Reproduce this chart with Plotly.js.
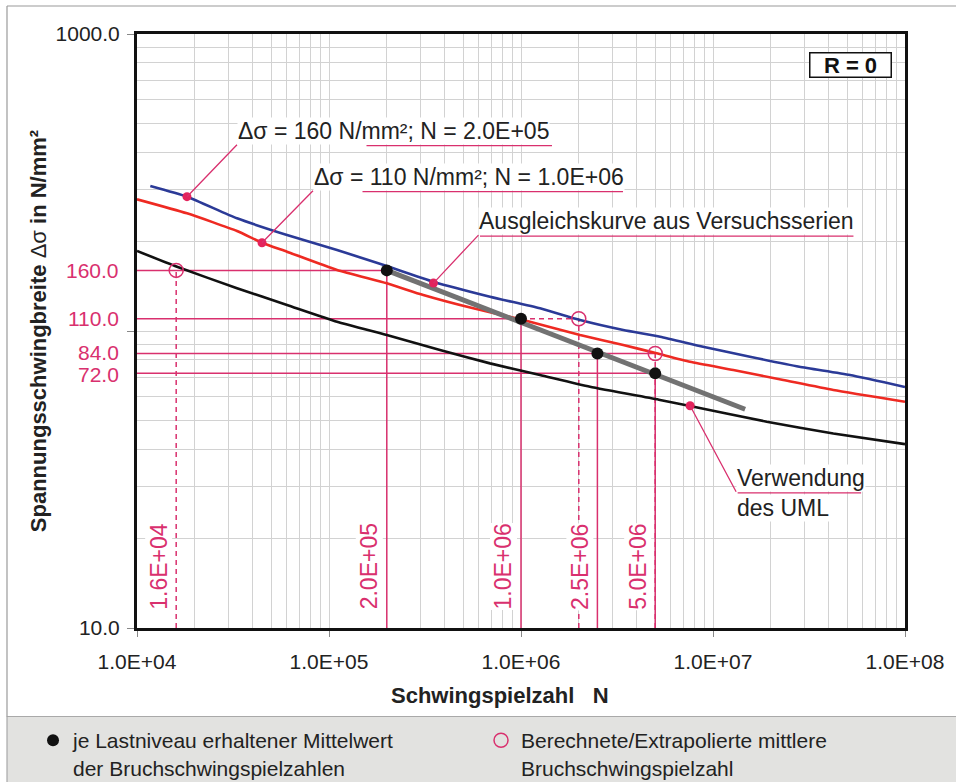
<!DOCTYPE html>
<html>
<head>
<meta charset="utf-8">
<script src="https://cdn.plot.ly/plotly-3.0.1.min.js"></script>
<style>html,body{margin:0;padding:0;background:#fff;}</style>
</head>
<body>
<div id="chart" style="width:956px;height:782px;"></div>
<script>
const FONT = 'Liberation Sans, Arial, Helvetica, sans-serif';
const PINK = '#d9306e';
const DOT = '#e3245c';

// ---- axis ticks ----
const xTickVals = [1e4, 1e5, 1e6, 1e7, 1e8];
const xTickText = ['1.0E+04', '1.0E+05', '1.0E+06', '1.0E+07', '1.0E+08'];
const yTickVals = [10, 100, 1000];
const yTickText = ['10.0', '', '1000.0'];

// ---- S-N curves ----
const blueN = [11730, 18210, 33180, 60430, 110100, 192700, 349300, 689500, 1256000, 2030000, 3410000, 5310000, 8870000, 15570000, 28150000, 51700000, 100000000];
const blueS = [307.7, 283.3, 239.6, 210.5, 187.4, 166.8, 146.6, 130.5, 119.2, 108.9, 100.8, 95.7, 88.5, 81.9, 75.8, 71.1, 64.8];

const redN = [10000, 18210, 33180, 44770, 60430, 110100, 200000, 309800, 564400, 1028000, 2030000, 3410000, 5090000, 7590000, 12760000, 23230000, 42320000, 100000000];
const redS = [277.6, 249.0, 217.0, 198.3, 184.9, 160.5, 144.7, 132.2, 119.2, 108.9, 96.9, 89.7, 84.1, 78.8, 73.9, 68.4, 63.3, 57.8];

const blackN = [10000, 16160, 33180, 60430, 110100, 200000, 378500, 689500, 1256000, 2288000, 5300000, 7590000, 19050000, 42320000, 100000000];
const blackS = [186.0, 164.6, 139.3, 122.4, 107.5, 96.9, 86.3, 77.8, 71.1, 64.9, 58.6, 55.9, 49.5, 45.2, 41.6];

// fitted line from the test series
const fitN = [200000, 14700000];
const fitS = [160, 54.5];

// ---- test levels ----
const meanN = [200000, 1000000, 2500000, 5000000];
const meanS = [160, 110, 84, 72];
const calcN = [16000, 2000000, 5000000];
const calcS = [160, 110, 84];

// horizontal guide lines (solid part ends at guideEndN)
const guideS = [160, 110, 84, 72];
const guideEndN = [200000, 1000000, 5000000, 5000000];
const dashFromN = [1000000];
const dashToN = [2000000];
const dashS = [110];

// labels
const sLabels = ['160.0', '110.0', '84.0', '72.0'];
const nLabels = ['1.6E+04', '2.0E+05', '1.0E+06', '2.5E+06', '5.0E+06'];
const nLabelN = [16000, 200000, 1000000, 2500000, 5000000];

// callouts
const callN = [18210, 44770, 350000, 7600000];
const callS = [283.3, 198.3, 145, 56];
const callText = ['Δσ = 160 N/mm²; N = 2.0E+05', 'Δσ = 110 N/mm²; N = 1.0E+06', 'Ausgleichskurve aus Versuchsserien', 'Verwendung'];
const callSub = ['', '', '', 'des UML'];

const xTitle = '<b>Schwingspielzahl\u00a0\u00a0\u00a0N</b>';
const yTitle = '<b>Spannungsschwingbreite</b> Δσ <b>in N/mm²</b>';
const legendMean = 'je Lastniveau erhaltener Mittelwert<br>der Bruchschwingspielzahlen';
const legendCalc = 'Berechnete/Extrapolierte mittlere<br>Bruchschwingspielzahl';

// ---- layout helpers (positions only) ----
const callAx = [50, 51, 45, 46];
const callAy = [-52, -52, -48, 86];
const callLen = [315, 310, 375, 125];
const sLabelShift = [0, 0, 1, -1];

const xMin = xTickVals[0];
const yMin = yTickVals[0];
const lg = Math.log10;

function minorVals(decades) {
  const out = [];
  for (let i = 0; i < decades.length - 1; i++) for (let k = 2; k <= 9; k++) out.push(k * decades[i]);
  return out;
}
function segs(xs0, xs1, ys0, ys1) {
  const x = [], y = [];
  for (let i = 0; i < xs0.length; i++) { x.push(xs0[i], xs1[i], null); y.push(ys0[i], ys1[i], null); }
  return {x, y};
}
const F = (size, color) => ({family: FONT, size: size, color: color});

const vSolid = segs(meanN, meanN, meanN.map(() => yMin), meanS);
const hSolid = segs(guideEndN.map(() => xMin), guideEndN, guideS, guideS);
const vDash = segs(calcN, calcN, calcN.map(() => yMin), calcS);
const hDash = segs(dashFromN, dashToN, dashS, dashS);

const curveLine = (c) => ({color: c, width: 2.6, shape: 'spline', smoothing: 0.5});

const traces = [
  {x: vSolid.x, y: vSolid.y, mode: 'lines', line: {color: PINK, width: 1.5}, showlegend: false, hoverinfo: 'skip'},
  {x: hSolid.x, y: hSolid.y, mode: 'lines', line: {color: PINK, width: 1.5}, showlegend: false, hoverinfo: 'skip'},
  {x: vDash.x, y: vDash.y, mode: 'lines', line: {color: PINK, width: 1.5, dash: '5px,4px'}, showlegend: false, hoverinfo: 'skip'},
  {x: hDash.x, y: hDash.y, mode: 'lines', line: {color: PINK, width: 1.5, dash: '5px,4px'}, showlegend: false, hoverinfo: 'skip'},
  {x: blackN, y: blackS, mode: 'lines', line: curveLine('#111111'), showlegend: false},
  {x: redN, y: redS, mode: 'lines', line: curveLine('#ee2a22'), showlegend: false},
  {x: blueN, y: blueS, mode: 'lines', line: curveLine('#2b3a97'), showlegend: false},
  {x: fitN, y: fitS, mode: 'lines', line: {color: '#727272', width: 5}, showlegend: false},
  {x: meanN, y: meanS, mode: 'markers', name: legendMean, marker: {color: '#111111', size: 12}},
  {x: calcN, y: calcS, mode: 'markers', name: legendCalc, marker: {symbol: 'circle-open', color: PINK, size: 14, line: {width: 1.5, color: PINK}}},
  {x: callN, y: callS, mode: 'markers', marker: {color: DOT, size: 9}, showlegend: false}
];

const annotations = [];
// callouts
for (let i = 0; i < callN.length; i++) {
  annotations.push({
    x: lg(callN[i]), y: lg(callS[i]), xref: 'x', yref: 'y',
    text: callText[i], showarrow: true, arrowhead: 0, arrowwidth: 1.3, arrowcolor: PINK,
    axref: 'pixel', ayref: 'pixel', ax: callAx[i], ay: callAy[i],
    xanchor: 'left', yanchor: 'bottom', bgcolor: '#ffffff', borderpad: 0,
    standoff: 0, startstandoff: 0,
    font: F(23, '#222')
  });
  // underline
  annotations.push({
    x: lg(callN[i]), y: lg(callS[i]), xref: 'x', yref: 'y',
    text: ' ', font: F(1, '#222'), showarrow: true, arrowhead: 0, arrowwidth: 1.3, arrowcolor: PINK,
    axref: 'pixel', ayref: 'pixel', ax: -callLen[i], ay: 0,
    xshift: callAx[i] + callLen[i], yshift: -(callAy[i] + 1), standoff: 0, startstandoff: 0
  });
  if (callSub[i]) {
    annotations.push({
      x: lg(callN[i]), y: lg(callS[i]), xref: 'x', yref: 'y',
      text: callSub[i], showarrow: false, xanchor: 'left', yanchor: 'top',
      xshift: callAx[i], yshift: -(callAy[i] + 2), bgcolor: '#ffffff', borderpad: 0,
      font: F(23, '#222')
    });
  }
}
// stress labels on the left
for (let i = 0; i < guideS.length; i++) {
  annotations.push({
    x: 0, xref: 'paper', xanchor: 'right', yanchor: 'middle', xshift: -17, yshift: sLabelShift[i],
    y: lg(guideS[i]), yref: 'y', text: sLabels[i], showarrow: false, borderpad: 0,
    font: F(21, PINK)
  });
}
// rotated N labels
for (let i = 0; i < nLabels.length; i++) {
  annotations.push({
    x: lg(nLabelN[i]), xref: 'x', xshift: -18, y: 0.1035, yref: 'paper',
    xanchor: 'center', yanchor: 'middle',
    text: nLabels[i], textangle: -90, showarrow: false, bgcolor: '#ffffff', borderpad: 0,
    font: F(23, PINK)
  });
}
// R = 0 box
annotations.push({
  x: 0.9284, y: 0.9478, xref: 'paper', yref: 'paper', xanchor: 'center', yanchor: 'middle',
  text: '<b>R = 0</b>', showarrow: false,
  font: F(22, '#111'), bgcolor: '#ffffff', bordercolor: '#111', borderwidth: 1.5,
  borderpad: 1, width: 78, height: 21
});
// x-axis title (placed like the reference, slightly left of centre)
annotations.push({
  x: 0.4727, y: -0.1128, xref: 'paper', yref: 'paper', xanchor: 'center', yanchor: 'middle',
  text: xTitle, showarrow: false, font: F(22, '#222')
});

const shapes = [
  {type: 'rect', xref: 'paper', yref: 'paper', x0: -0.16927, x1: 1.07, y0: -0.27, y1: -0.14899,
   fillcolor: '#e2e2e0', line: {color: '#a9a9a9', width: 1.2}, layer: 'below'},
  {type: 'line', xref: 'paper', yref: 'paper', x0: -0.16927, x1: 1.07, y0: 1.04714, y1: 1.04714,
   line: {color: '#9a9a9a', width: 1.2}},
  {type: 'line', xref: 'paper', yref: 'paper', x0: -0.16927, x1: -0.16927, y0: -0.14899, y1: 1.04714,
   line: {color: '#9a9a9a', width: 1.2}}
];

const gridColor = '#d2d2d2';
const layout = {
  width: 956, height: 782,
  margin: {l: 137, r: 51, t: 34, b: 154, autoexpand: false},
  paper_bgcolor: '#ffffff', plot_bgcolor: '#ffffff',
  font: F(20, '#222'),
  hovermode: false,
  showlegend: true,
  legend: {
    orientation: 'h', xref: 'paper', yref: 'paper', x: -0.1354, y: -0.155,
    xanchor: 'left', yanchor: 'top', bgcolor: 'rgba(0,0,0,0)', borderwidth: 0,
    font: F(21, '#222'), entrywidth: 403, entrywidthmode: 'pixels',
    valign: 'top', traceorder: 'normal'
  },
  xaxis: {
    type: 'log', range: [lg(xTickVals[0]), lg(xTickVals[xTickVals.length - 1])],
    tickmode: 'array', tickvals: xTickVals, ticktext: xTickText,
    ticks: 'outside', ticklen: 6, tickwidth: 1, tickcolor: '#888',
    tickfont: F(21, '#222'), ticklabelstandoff: 7,
    showgrid: true, gridcolor: gridColor, gridwidth: 1,
    minor: {tickmode: 'array', tickvals: minorVals(xTickVals), showgrid: true, gridcolor: gridColor, gridwidth: 1, ticks: ''},
    showline: true, mirror: true, linecolor: '#111', linewidth: 3, zeroline: false
  },
  yaxis: {
    type: 'log', range: [lg(yTickVals[0]), lg(yTickVals[yTickVals.length - 1])],
    tickmode: 'array', tickvals: yTickVals, ticktext: yTickText,
    ticks: 'outside', ticklen: 7, tickwidth: 1, tickcolor: '#888',
    tickfont: F(21, '#222'), ticklabelstandoff: 3,
    showgrid: true, gridcolor: gridColor, gridwidth: 1,
    minor: {tickmode: 'array', tickvals: minorVals(yTickVals), showgrid: true, gridcolor: gridColor, gridwidth: 1, ticks: ''},
    showline: true, mirror: true, linecolor: '#111', linewidth: 3, zeroline: false,
    title: {text: yTitle, font: F(22, '#222'), standoff: 3}
  },
  shapes: shapes,
  annotations: annotations
};

Plotly.newPlot('chart', traces, layout, {staticPlot: true, displayModeBar: false});
</script>
</body>
</html>
